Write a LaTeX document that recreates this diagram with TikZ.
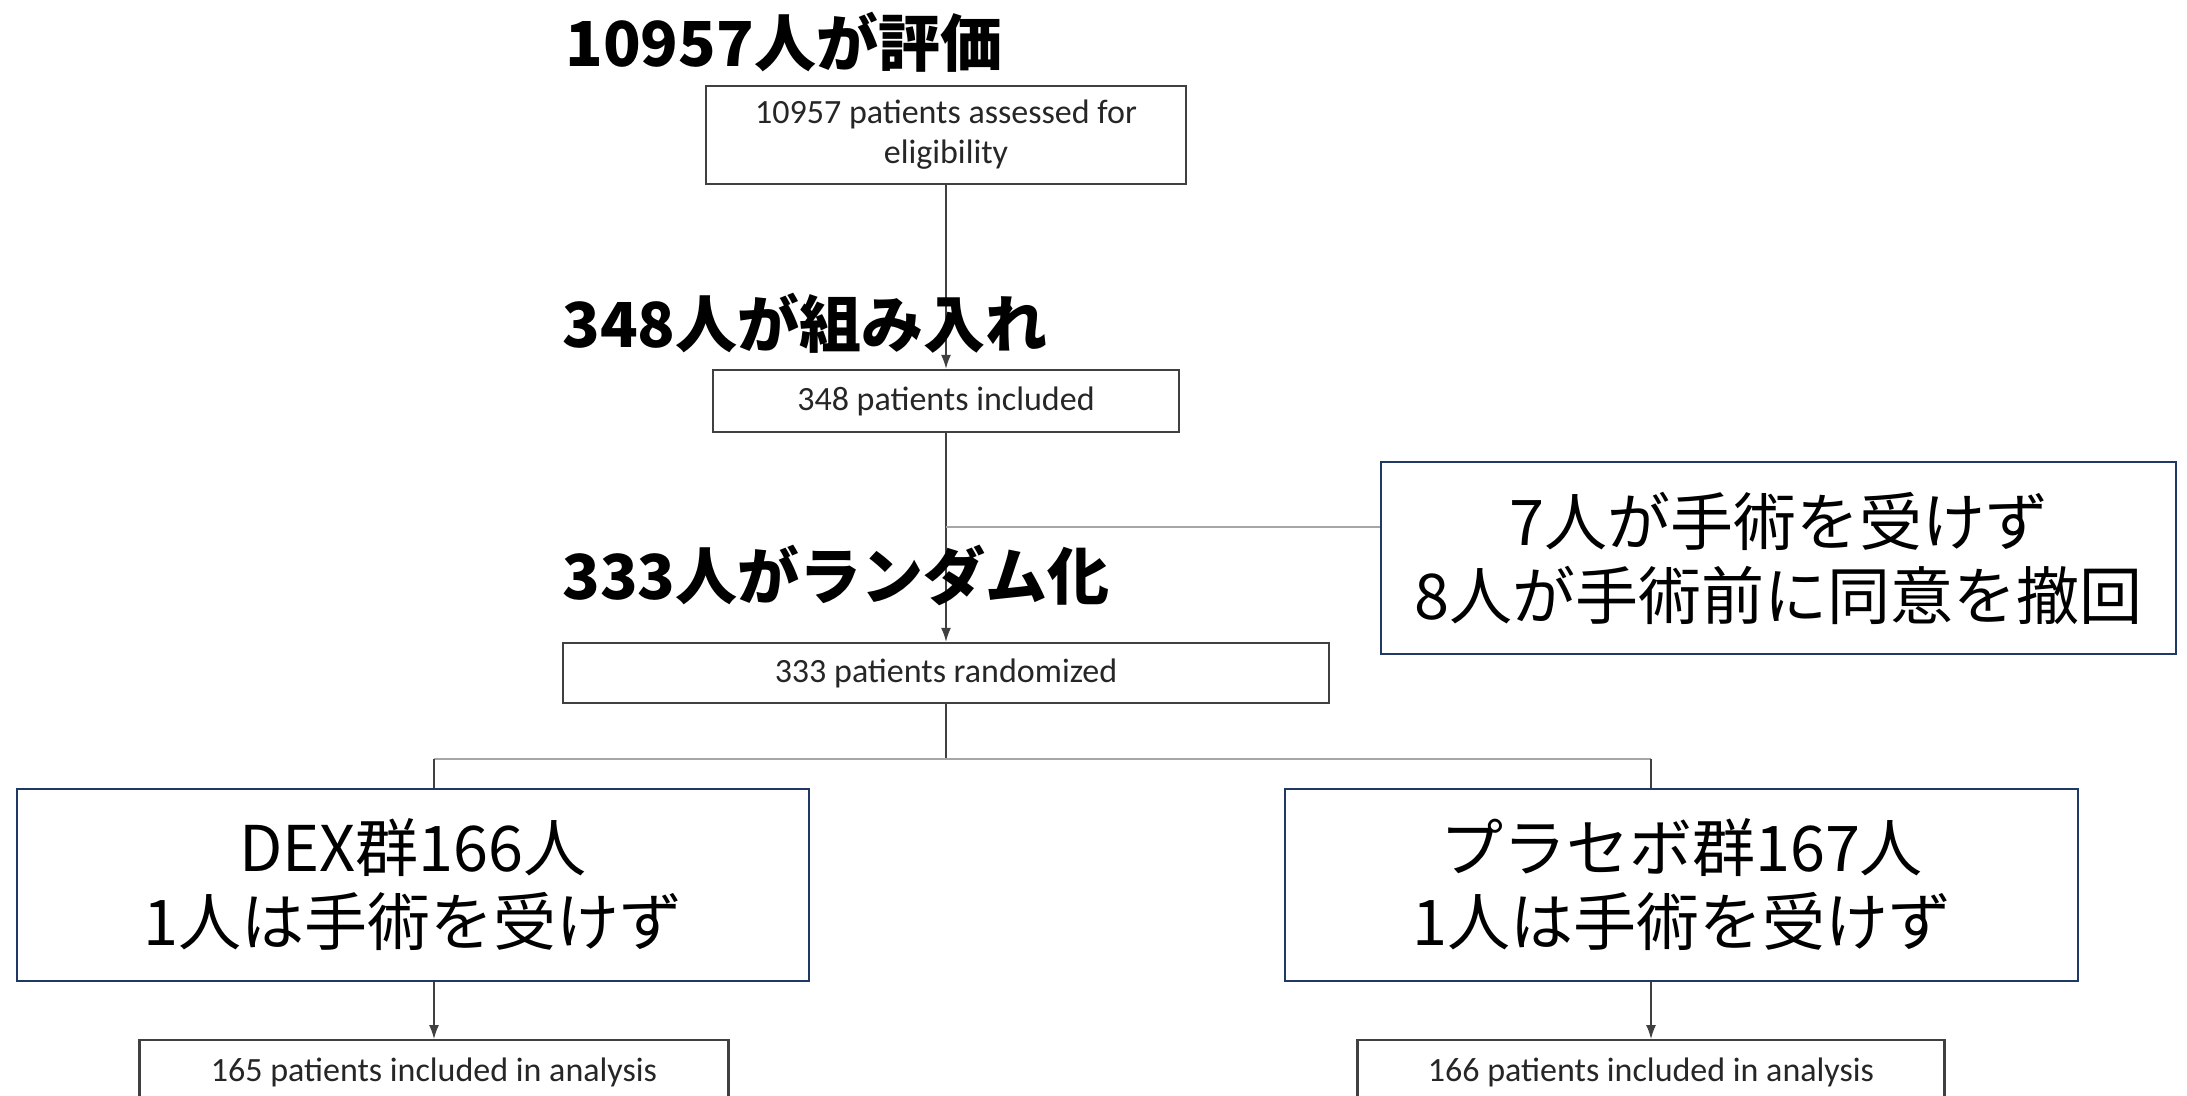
\documentclass[tikz,border=0pt]{standalone}
\usepackage{fontspec}
\setmainfont{Carlito}
\newfontfamily\jp{Noto Sans CJK JP}
\usetikzlibrary{arrows.meta,backgrounds}
\definecolor{navy}{HTML}{1F3864}
\begin{document}
\begin{tikzpicture}[x=0.5pt,y=-0.5pt,
  engbox/.style={draw=black!75, line width=1.2pt, fill=white, inner sep=0pt, align=center, font=\fontsize{17}{20}\selectfont, text=black!85},
  jpbox/.style={draw=navy, line width=1pt, fill=white, inner sep=0pt, align=center, font=\jp\fontsize{31.5}{37}\selectfont},
  titletext/.style={anchor=west, inner sep=0pt, font=\jp\bfseries\fontsize{31}{36}\selectfont},
  mainline/.style={draw=black!75, line width=0.75pt},
  arr/.style={mainline, -{Latex[length=7pt,width=5pt]}},
  branch/.style={draw=black!35, line width=1pt}]
\clip (0,0) rectangle (2187,1096);
\node[engbox, minimum width=240pt, minimum height=49pt] (b1) at (946,135) {10957 patients assessed for\\eligibility};
\node[engbox, minimum width=233pt, minimum height=31pt] (b2) at (946,401) {348 patients included};
\node[engbox, minimum width=383pt, minimum height=30pt] (b3) at (946,673) {333 patients randomized};
\node[jpbox, minimum width=397.5pt, minimum height=96pt] (ex) at (1778.5,558) {7人が手術を受けず\\8人が手術前に同意を撤回};
\node[jpbox, minimum width=396pt, minimum height=96pt] (dex) at (413,885) {DEX群166人\\1人は手術を受けず};
\node[jpbox, minimum width=396.5pt, minimum height=96pt] (pla) at (1681.5,885) {プラセボ群167人\\1人は手術を受けず};
\node[engbox, anchor=north, minimum width=294.5pt, minimum height=32pt] (b4) at (434,1039) {165 patients included in analysis};
\node[engbox, anchor=north, minimum width=293.5pt, minimum height=32pt] (b5) at (1651,1039) {166 patients included in analysis};
\node[titletext] (t1) at (565,42) {10957人が評価};
\node[titletext] (t2) at (562,323) {348人が組み入れ};
\node[titletext] (t3) at (562,575) {333人がランダム化};
\begin{scope}[on background layer]
\fill[white] (0,0) rectangle (2187,1096);
\coordinate (j1) at (b2.south |- 0,527);
\coordinate (j2) at (b3.south |- 0,759);
\draw[arr] (b1.south) -- (b2.north);
\draw[arr] (b2.south) -- (b3.north);
\draw[branch] (j1) -- (ex.west |- j1);
\draw[mainline] (b3.south) -- (j2);
\draw[branch] (b4.north |- j2) -- (b5.north |- j2);
\draw[arr] (b4.north |- j2) -- (b4.north);
\draw[arr] (b5.north |- j2) -- (b5.north);
\end{scope}
\end{tikzpicture}
\end{document}
